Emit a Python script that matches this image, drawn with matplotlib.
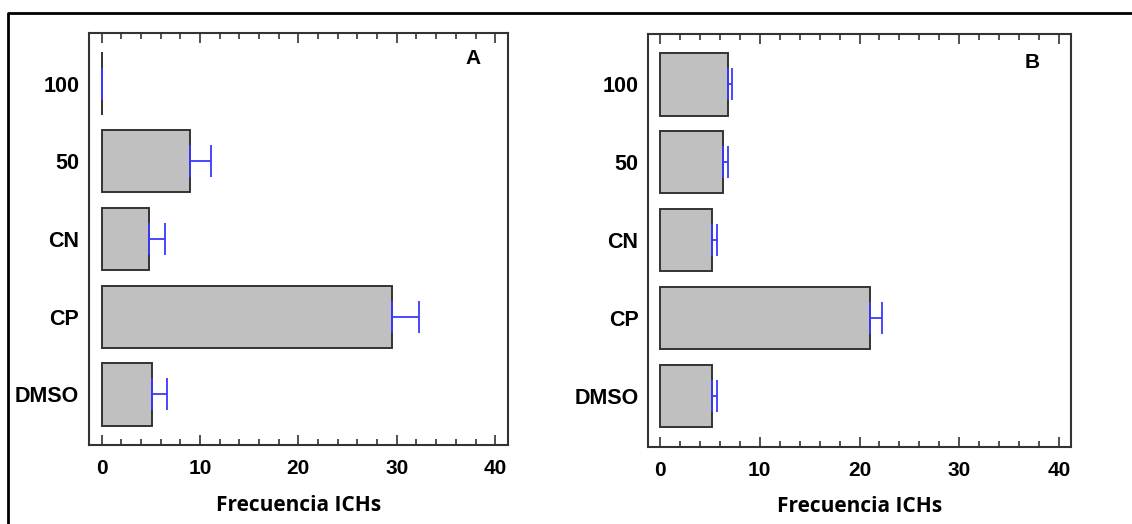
import matplotlib
matplotlib.use("Agg")
import matplotlib.pyplot as plt
from matplotlib.lines import Line2D
from matplotlib.ticker import MultipleLocator

categories = ["100", "50", "CN", "CP", "DMSO"]
values_a = [0.0, 9.0, 4.85, 29.55, 5.1]
errors_a = [0.0, 2.1, 1.6, 2.75, 1.6]
values_b = [6.8, 6.35, 5.2, 21.05, 5.2]
errors_b = [0.47, 0.45, 0.57, 1.25, 0.57]
panel_labels = ["A", "B"]
xlabel = "Frecuencia ICHs"
xticks = [0, 10, 20, 30, 40]

W, H = 1132, 524
fig = plt.figure(figsize=(W / 100, H / 100), dpi=100)

# outer frame (top and left edges)
fig.add_artist(Line2D([8 / W, 8 / W, 1.0], [0.0, 1 - 13 / H, 1 - 13 / H],
                      transform=fig.transFigure, color="black", lw=2.0))

panels = [
    dict(rect=[89 / W, (H - 445) / H, (508 - 89) / W, (445 - 33) / H],
         xlim=(-1.27, 41.3), vals=values_a, errs=errors_a, lab_xy=(473, 59)),
    dict(rect=[648.3 / W, (H - 446.7) / H, (1071 - 648.3) / W, (446.7 - 33.7) / H],
         xlim=(-1.14, 41.17), vals=values_b, errs=errors_b, lab_xy=(1031.7, 62)),
]

edge = "#333333"
for p, lab in zip(panels, panel_labels):
    ax = fig.add_axes(p["rect"])
    ypos = list(range(len(categories)))
    ax.barh(ypos, p["vals"], height=0.8, color="#c0c0c0", edgecolor=edge,
            linewidth=1.4, zorder=2)
    ax.errorbar(p["vals"], ypos, xerr=[[0] * len(ypos), p["errs"]], fmt="none",
                ecolor="#3a3aff", elinewidth=1.3, capsize=11.2, capthick=1.3, zorder=3)
    ax.set_ylim(len(categories) - 1 + 0.65, -0.65)
    ax.set_xlim(*p["xlim"])
    ax.set_yticks(ypos)
    ax.set_yticklabels(categories, fontsize=15.5, fontweight="bold",
                       family="Liberation Sans")
    ax.set_xticks(xticks)
    ax.set_xticklabels([str(t) for t in xticks], fontsize=15, fontweight="bold",
                       family="Liberation Sans")
    ax.xaxis.set_minor_locator(MultipleLocator(2))
    ax.tick_params(axis="y", length=0, pad=7)
    ax.tick_params(axis="x", which="major", direction="in", length=7, width=1.2,
                   top=True, bottom=True, color=edge, pad=10)
    ax.tick_params(axis="x", which="minor", direction="in", length=4, width=1.2,
                   top=True, bottom=True, color=edge)
    for s in ax.spines.values():
        s.set_color(edge)
        s.set_linewidth(1.5)
    ax.set_xlabel(xlabel, fontsize=15, fontweight="bold", family="Open Sans", labelpad=12)
    fig.text(p["lab_xy"][0] / W, 1 - p["lab_xy"][1] / H, lab, fontsize=15,
             fontweight="bold", family="Liberation Sans", ha="center", va="center")

fig.savefig("out.png", dpi=100)
